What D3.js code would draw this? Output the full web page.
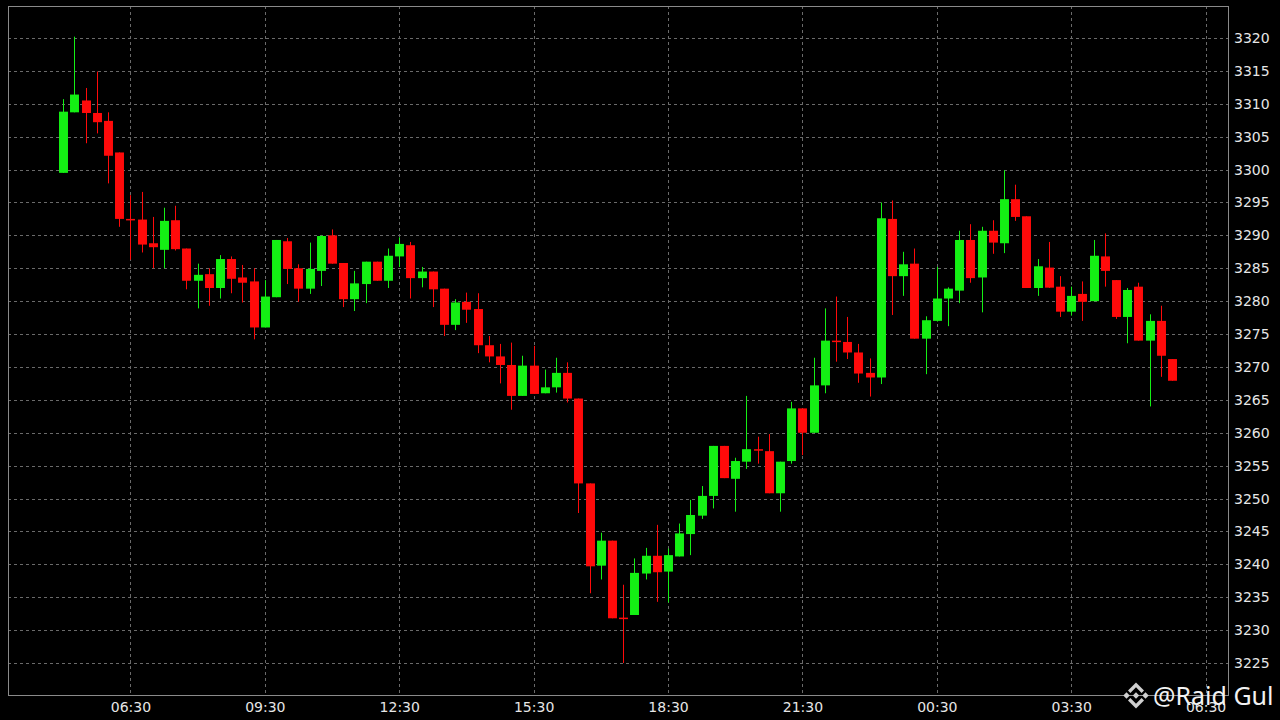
<!DOCTYPE html>
<html>
<head>
<meta charset="utf-8">
<script src="https://cdn.jsdelivr.net/npm/d3@7"></script>
<style>
html,body{margin:0;padding:0;background:#000;}
svg{display:block;}
</style>
</head>
<body>
<svg id="chart" width="1280" height="720"></svg>
<script>
// ---- Data (15-minute candles) ----
const startTime = new Date(2024, 0, 1, 5, 0);   // first candle 05:00
const intervalMinutes = 15;
const openValues  = [3299.5,3308.7,3310.5,3308.6,3307.4,3302.6,3292.5,3292.4,3288.8,3287.8,3292.3,3288.0,3283.1,3284.1,3282.0,3286.4,3283.6,3283.0,3276.0,3280.6,3289.1,3285.0,3281.9,3284.6,3290.0,3285.8,3280.3,3282.6,3286.0,3283.1,3286.8,3288.5,3283.5,3284.5,3281.9,3276.4,3279.9,3278.8,3273.3,3271.6,3270.3,3265.6,3270.2,3266.0,3266.9,3269.1,3265.2,3252.3,3239.8,3243.6,3231.9,3232.3,3238.6,3241.3,3238.9,3241.2,3244.6,3247.4,3250.4,3258.0,3253.0,3255.6,3257.5,3257.2,3250.8,3255.7,3263.7,3260.0,3267.2,3274.0,3273.8,3272.2,3269.1,3268.4,3292.5,3283.8,3285.7,3274.3,3277.0,3280.4,3281.6,3289.3,3283.6,3290.7,3288.8,3295.5,3292.9,3282.0,3285.1,3282.2,3278.4,3281.1,3280.0,3286.8,3283.2,3277.6,3282.2,3274.0,3277.0,3271.2];
const highValues  = [3310.7,3320.2,3312.4,3314.9,3308.7,3302.6,3296.1,3296.6,3292.8,3294.2,3294.5,3288.0,3285.7,3285.0,3287.0,3286.8,3285.5,3285.0,3283.2,3289.3,3289.6,3285.6,3288.9,3290.0,3290.9,3285.8,3284.6,3286.0,3286.0,3288.0,3289.7,3289.0,3285.2,3284.5,3281.9,3280.3,3281.3,3281.2,3274.7,3273.5,3273.7,3271.7,3273.2,3269.6,3271.4,3270.7,3265.2,3252.3,3244.8,3243.6,3236.9,3240.9,3242.5,3246.0,3242.4,3246.2,3249.8,3251.9,3258.0,3258.0,3256.2,3265.6,3259.4,3259.8,3255.6,3264.7,3263.7,3271.4,3278.9,3280.7,3277.6,3273.5,3271.3,3295.0,3295.3,3287.5,3288.0,3277.7,3285.2,3282.1,3290.7,3291.7,3291.3,3292.3,3299.9,3297.7,3292.9,3286.4,3289.0,3283.8,3282.2,3283.0,3289.3,3290.3,3283.2,3282.0,3282.8,3278.0,3279.3,3271.2];
const lowValues   = [3299.5,3308.7,3304.0,3305.5,3297.9,3291.3,3286.3,3287.4,3285.0,3285.0,3287.7,3281.8,3278.9,3279.3,3280.4,3281.2,3279.8,3274.2,3276.0,3280.6,3282.6,3279.9,3281.1,3282.3,3285.7,3279.1,3278.5,3279.7,3283.1,3282.0,3285.2,3280.4,3282.1,3279.1,3274.7,3275.6,3276.7,3272.1,3270.7,3267.5,3263.5,3265.6,3265.9,3266.0,3266.1,3264.6,3247.8,3235.6,3237.7,3231.8,3225.0,3232.3,3237.7,3234.3,3234.2,3241.2,3241.4,3246.9,3248.5,3253.1,3248.0,3254.5,3255.3,3250.8,3248.0,3255.3,3256.6,3260.0,3266.0,3270.8,3271.2,3267.6,3265.5,3267.4,3277.9,3280.8,3274.3,3268.9,3276.9,3276.2,3279.7,3282.8,3278.3,3287.2,3287.3,3292.2,3282.0,3280.8,3282.0,3277.6,3277.8,3277.0,3280.0,3282.2,3277.3,3273.6,3274.0,3264.0,3268.5,3267.9];
const closeValues = [3308.8,3311.4,3308.6,3307.2,3302.1,3292.5,3292.3,3288.6,3288.2,3292.2,3287.9,3283.1,3284.0,3282.0,3286.4,3283.4,3282.8,3276.0,3280.7,3289.3,3284.9,3281.9,3284.9,3289.9,3285.7,3280.3,3282.7,3286.0,3283.1,3286.9,3288.7,3283.5,3284.5,3281.8,3276.4,3279.8,3278.7,3273.3,3271.6,3270.3,3265.6,3270.2,3265.9,3266.9,3269.1,3265.2,3252.3,3239.7,3243.6,3231.8,3231.7,3238.7,3241.3,3238.8,3241.4,3244.7,3247.5,3250.4,3258.0,3253.1,3255.7,3257.5,3257.3,3250.8,3255.6,3263.7,3260.0,3267.2,3274.0,3273.8,3272.2,3269.0,3268.4,3292.6,3283.8,3285.6,3274.3,3277.1,3280.4,3281.9,3289.3,3283.5,3290.7,3288.9,3295.5,3292.8,3282.0,3285.3,3282.05,3278.4,3280.8,3279.9,3286.9,3284.6,3277.6,3281.7,3274.0,3277.0,3271.7,3267.9];
const priceTicks = [3225,3230,3235,3240,3245,3250,3255,3260,3265,3270,3275,3280,3285,3290,3295,3300,3305,3310,3315,3320];
const timeTickLabels = ["06:30","09:30","12:30","15:30","18:30","21:30","00:30","03:30","06:30"];
const watermarkText = "@Raid Gul";

// ---- Build candles ----
const candles = openValues.map((o, i) => ({
  t: new Date(startTime.getTime() + i * intervalMinutes * 60000),
  o, h: highValues[i], l: lowValues[i], c: closeValues[i]
}));
// time ticks: 90 min after start, every 3 hours
const timeTicks = timeTickLabels.map((lab, k) => ({
  t: new Date(startTime.getTime() + (90 + k * 180) * 60000), label: lab
}));

// ---- Layout ----
const plot = {left: 8, right: 1228, top: 6, bottom: 695};
const svg = d3.select("#chart");
svg.append("rect").attr("width",1280).attr("height",720).attr("fill","#000");

const x = d3.scaleTime()
  .domain([new Date(startTime.getTime() - 74*60000), new Date(startTime.getTime() + 1560*60000)])
  .range([plot.left, plot.right]);
const y = d3.scaleLinear()
  .domain([3220.14, 3324.86])
  .range([plot.bottom, plot.top]);

// grid
const grid = svg.append("g").attr("stroke","#6a6a6a").attr("stroke-width",1).attr("stroke-dasharray","3,3").attr("shape-rendering","crispEdges");
grid.selectAll("line.h").data(priceTicks).join("line")
  .attr("x1", plot.left).attr("x2", plot.right)
  .attr("y1", d => Math.round(y(d)) + 0.5).attr("y2", d => Math.round(y(d)) + 0.5);
grid.selectAll("line.v").data(timeTicks).join("line")
  .attr("y1", plot.top).attr("y2", plot.bottom)
  .attr("x1", d => Math.round(x(d.t)) + 0.5).attr("x2", d => Math.round(x(d.t)) + 0.5);

// border
svg.append("rect")
  .attr("x", plot.left + 0.5).attr("y", plot.top + 0.5)
  .attr("width", plot.right - plot.left).attr("height", plot.bottom - plot.top)
  .attr("fill","none").attr("stroke","#8a8a8a").attr("stroke-width",1);

// candles
const GREEN = "#14f014", RED = "#ff0a0a";
const step = x(new Date(startTime.getTime() + intervalMinutes*60000)) - x(startTime);
const bodyW = step * 0.8;
const cg = svg.append("g");
cg.selectAll("line.wick").data(candles).join("line")
  .attr("x1", d => Math.round(x(d.t)) + 0.5).attr("x2", d => Math.round(x(d.t)) + 0.5)
  .attr("y1", d => y(d.h)).attr("y2", d => y(d.l))
  .attr("stroke", d => d.c >= d.o ? GREEN : RED).attr("stroke-width", 1);
cg.selectAll("rect.body").data(candles).join("rect")
  .attr("x", d => Math.round(x(d.t)) + 0.5 - bodyW/2)
  .attr("width", bodyW)
  .attr("y", d => y(Math.max(d.o, d.c)))
  .attr("height", d => Math.max(1.5, Math.abs(y(d.o) - y(d.c))))
  .attr("fill", d => d.c >= d.o ? GREEN : RED);

// right axis labels
const yAxis = d3.axisRight(y).tickValues(priceTicks).tickFormat(d3.format("d")).tickSize(0).tickPadding(6);
const ga = svg.append("g").attr("transform", `translate(${plot.right},0)`).call(yAxis);
ga.select(".domain").remove();
ga.selectAll("text").attr("fill","#e6e6e6").style("font-family","DejaVu Sans").style("font-size","14px");

// bottom axis labels
const xAxis = d3.axisBottom(x).tickValues(timeTicks.map(d => d.t))
  .tickFormat((d, i) => timeTicks[i].label).tickSize(0).tickPadding(7);
const gx = svg.append("g").attr("transform", `translate(0,${plot.bottom})`).call(xAxis);
gx.select(".domain").remove();
gx.selectAll("text").attr("fill","#e6e6e6").style("font-family","DejaVu Sans").style("font-size","14px");

// watermark
const wm = svg.append("g").attr("fill","#e8e8e8");
const lg = wm.append("g").attr("transform","translate(1136,695.5)").attr("fill","#d0d0d0");
const dia = (cx, cy, r) => `M${cx},${cy-r}L${cx+r},${cy}L${cx},${cy+r}L${cx-r},${cy}Z`;
lg.append("path").attr("d", dia(0,0,3.2));
lg.append("path").attr("d", dia(-9.5,0,3.2));
lg.append("path").attr("d", dia(9.5,0,3.2));
lg.append("path").attr("d", "M0,-13L8,-5L5.6,-2.6L0,-8.2L-5.6,-2.6L-8,-5Z");
lg.append("path").attr("d", "M0,13L8,5L5.6,2.6L0,8.2L-5.6,2.6L-8,5Z");
wm.append("text").attr("x",1153).attr("y",705)
  .style("font-family","Noto Sans").style("font-size","25px").attr("fill","#f2f2f2")
  .text(watermarkText);
</script>
</body>
</html>
